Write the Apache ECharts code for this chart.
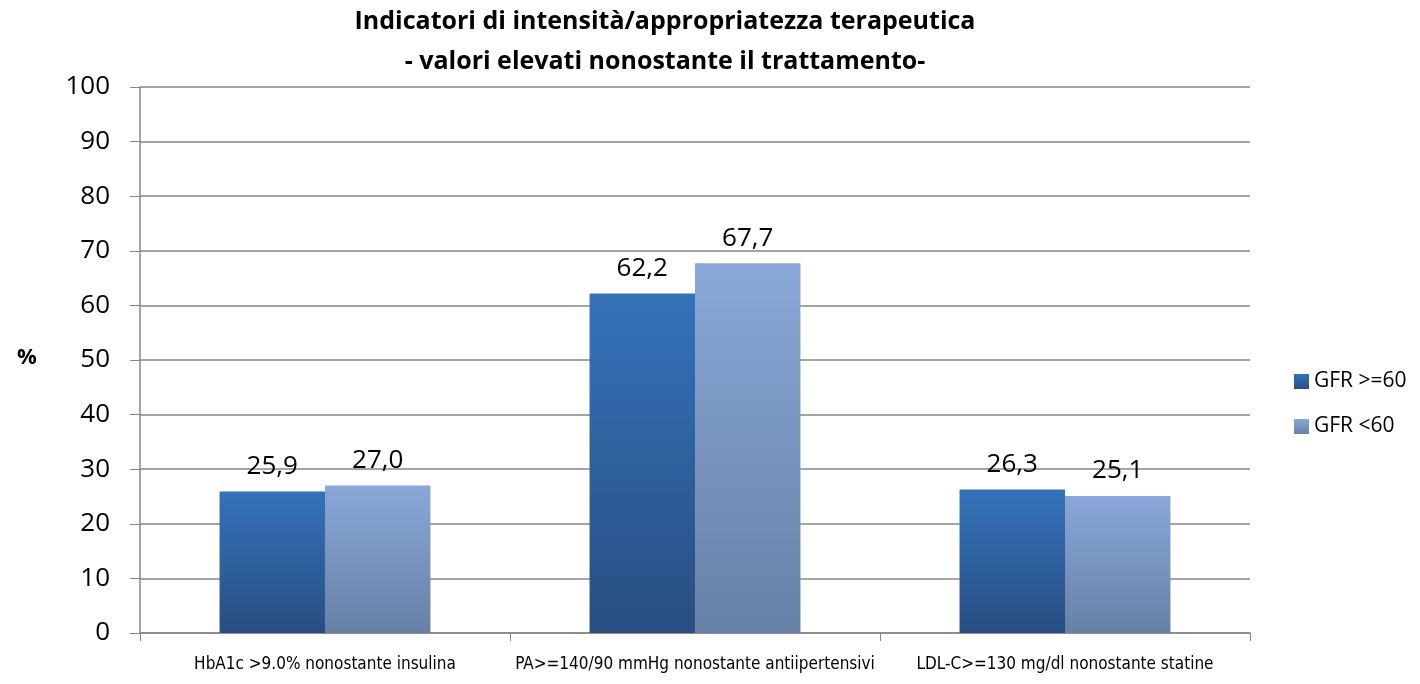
<!DOCTYPE html>
<html>
<head>
<meta charset="utf-8">
<script src="https://cdn.jsdelivr.net/npm/echarts@6/dist/echarts.min.js"></script>
<style>
 body{margin:0;background:#fff;}
 #chart{width:1420px;height:684px;}
</style>
</head>
<body>
<div id="chart"></div>
<script>
var categories = ['HbA1c >9.0% nonostante insulina', 'PA>=140/90 mmHg nonostante antiipertensivi', 'LDL-C>=130 mg/dl nonostante statine'];
var seriesNames = ['GFR >=60', 'GFR <60'];
var gfrHigh = [25.9, 62.2, 26.3];
var gfrLow = [27.0, 67.7, 25.1];

var myChart = echarts.init(document.getElementById('chart'));

function grad(top, bottom) {
  return new echarts.graphic.LinearGradient(0, 0, 0, 1, [
    { offset: 0, color: top },
    { offset: 1, color: bottom }
  ]);
}

var labelStyle = {
  show: true,
  position: 'top',
  distance: 12,
  color: '#000',
  fontSize: 26,
  fontFamily: 'Open Sans, Liberation Sans, sans-serif',
  formatter: function (p) { return p.value.toFixed(1).replace('.', ','); }
};

var option = {
  backgroundColor: '#fff',
  animation: false,
  title: {
    text: 'Indicatori di intensità/appropriatezza terapeutica\n- valori elevati nonostante il trattamento-',
    left: 660,
    textAlign: 'center',
    top: -3,
    textStyle: {
      fontSize: 25,
      fontWeight: 'bold',
      color: '#000',
      lineHeight: 40,
      fontFamily: 'Open Sans, Liberation Sans, sans-serif'
    }
  },
  legend: {
    orient: 'vertical',
    left: 1289,
    top: 366,
    itemWidth: 15,
    itemHeight: 15,
    itemGap: 24,
    icon: 'rect',
    textStyle: { fontSize: 21, color: '#000', fontFamily: 'Open Sans, Liberation Sans, sans-serif' },
    data: seriesNames
  },
  grid: { left: 140, right: 170, top: 87, bottom: 51, containLabel: false },
  graphic: [{
    type: 'text',
    left: 17,
    top: 347,
    style: { text: '%', fontSize: 22, fontWeight: 'bold', fill: '#000', fontFamily: 'Open Sans, Liberation Sans, sans-serif' }
  }],
  xAxis: {
    type: 'category',
    data: categories,
    axisLine: { lineStyle: { color: '#868686', width: 1.5 } },
    axisTick: { show: true, alignWithLabel: false, length: 8, lineStyle: { color: '#868686' } },
    axisLabel: {
      color: '#000',
      fontSize: 17,
      margin: 23,
      interval: 0,
      fontFamily: 'Liberation Sans Narrow, DejaVu Sans Condensed, sans-serif'
    }
  },
  yAxis: {
    type: 'value',
    min: 0,
    max: 100,
    interval: 10,
    axisLine: { show: true, lineStyle: { color: '#868686', width: 1.5 } },
    axisTick: { show: true, length: 10, inside: false, lineStyle: { color: '#868686' } },
    axisLabel: { color: '#000', fontSize: 26, margin: 30, fontFamily: 'Open Sans, Liberation Sans, sans-serif' },
    splitLine: { lineStyle: { color: '#868686', width: 1.5 } }
  },
  series: [
    {
      name: seriesNames[0],
      type: 'bar',
      data: gfrHigh,
      barGap: '0%',
      barCategoryGap: '43%',
      itemStyle: { color: grad('#3472ba', '#284e82') },
      label: labelStyle
    },
    {
      name: seriesNames[1],
      type: 'bar',
      data: gfrLow,
      itemStyle: { color: grad('#89a7d8', '#6780a6') },
      label: labelStyle
    }
  ]
};

myChart.setOption(option);
</script>
</body>
</html>
